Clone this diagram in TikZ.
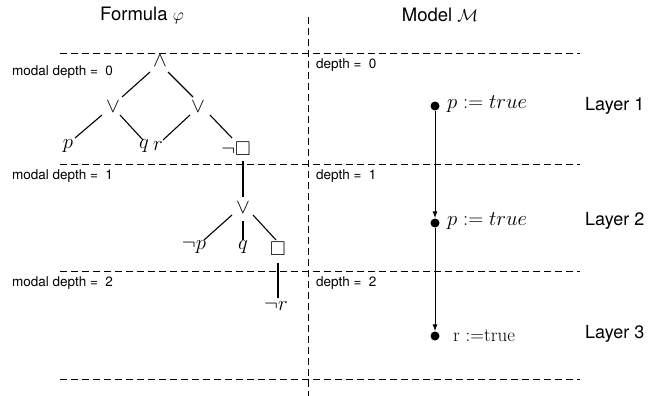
\documentclass[tikz,border=0pt]{standalone}
\usepackage{amssymb}
\usepackage{fontspec}
\newfontfamily\hv{TeX Gyre Heros}
\usetikzlibrary{arrows.meta}
\begin{document}
\begin{tikzpicture}[x=1pt,y=-1pt,
  dashline/.style={dashed,dash pattern=on 7pt off 4pt,line width=0.9pt},
  head/.style={font=\hv\fontsize{18.5}{20}\selectfont,inner sep=0pt},
  small/.style={font=\hv\fontsize{13.5}{15}\selectfont,inner sep=0pt,anchor=west},
  layer/.style={font=\hv\fontsize{18}{20}\selectfont,inner sep=0pt,anchor=west},
  sym/.style={font=\fontsize{20}{22}\selectfont,inner sep=0pt},
  edge/.style={line width=1.1pt},
  dot/.style={circle,fill=black,inner sep=0pt,minimum size=9pt},
  lab/.style={font=\fontsize{20}{22}\selectfont,inner sep=0pt,anchor=west},
  arr/.style={line width=1pt,-{Latex[length=7pt,width=5pt]}}]
\useasboundingbox (0,0) rectangle (648,396);
% dashed lines
\coordinate (h0a) at (60,53);  \coordinate (h0b) at (580,53);
\coordinate (h1a) at (60,164); \coordinate (h1b) at (580,164);
\coordinate (h2a) at (60,271); \coordinate (h2b) at (580,271);
\coordinate (h3a) at (60,379); \coordinate (h3b) at (580,379);
\coordinate (va) at (308,17);  \coordinate (vb) at (308,396);
\draw[dashline] (h0a) -- (h0b);
\draw[dashline] (h1a) -- (h1b);
\draw[dashline] (h2a) -- (h2b);
\draw[dashline] (h3a) -- (h3b);
\draw[dashline] (va) -- (vb);
% headers
\node[head] (hf) at (142,15) {Formula $\varphi$};
\node[head] (hm) at (440,15) {Model $\mathcal{M}$};
% depth labels
\node[small] (md0) at (12,72) {modal depth =\ \ 0};
\node[small] (md1) at (12,176) {modal depth =\ \ 1};
\node[small] (md2) at (12,283) {modal depth =\ \ 2};
\node[small] (d0) at (316,65) {depth =\ \ 0};
\node[small] (d1) at (316,176) {depth =\ \ 1};
\node[small] (d2) at (316,283) {depth =\ \ 2};
% tree
\node[sym] (and) at (160,61) {$\wedge$};
\node[sym] (orl) at (113,107) {$\vee$};
\node[sym] (orr) at (198,107) {$\vee$};
\node[sym] (p) at (68,146) {$p$};
\node[sym] (q) at (144,146) {$q$};
\node[sym] (r) at (158,146) {$r$};
\node[sym] (nb) at (236,149) {$\neg\Box$};
\node[sym] (or2) at (243,208) {$\vee$};
\node[sym] (np) at (194,247) {$\neg p$};
\node[sym] (q2) at (243,247) {$q$};
\node[sym] (bx) at (278,249) {$\Box$};
\node[sym] (nr) at (276,306) {$\neg r$};
\draw[edge] (150,72) -- (122,97);
\draw[edge] (168,72) -- (193,97);
\draw[edge] (102,115) -- (75,138);
\draw[edge] (120,115) -- (143,140);
\draw[edge] (190,115) -- (163,140);
\draw[edge] (210,115) -- (232,138);
\draw[edge] (243,161) -- (243,197);
\draw[edge] (232,215) -- (204,240);
\draw[edge] (243,221) -- (243,240);
\draw[edge] (253,215) -- (276,240);
\draw[edge] (278,263) -- (278,298);
% model
\node[dot] (w1) at (435,106) {};
\node[dot] (w2) at (435,223) {};
\node[dot] (w3) at (435,336) {};
\node[lab] (l1) at (447,104) {$p := true$};
\node[lab] (l2) at (447,221) {$p := true$};
\node[lab,font=\fontsize{19}{21}\selectfont] (l3) at (453,336) {r :=true};
\draw[arr] (w1) -- (w2.north);
\draw[arr] (w2) -- (w3.north);
\node[layer] (L1) at (585,106) {Layer 1};
\node[layer] (L2) at (585,221) {Layer 2};
\node[layer] (L3) at (585,334) {Layer 3};
\end{tikzpicture}
\end{document}
